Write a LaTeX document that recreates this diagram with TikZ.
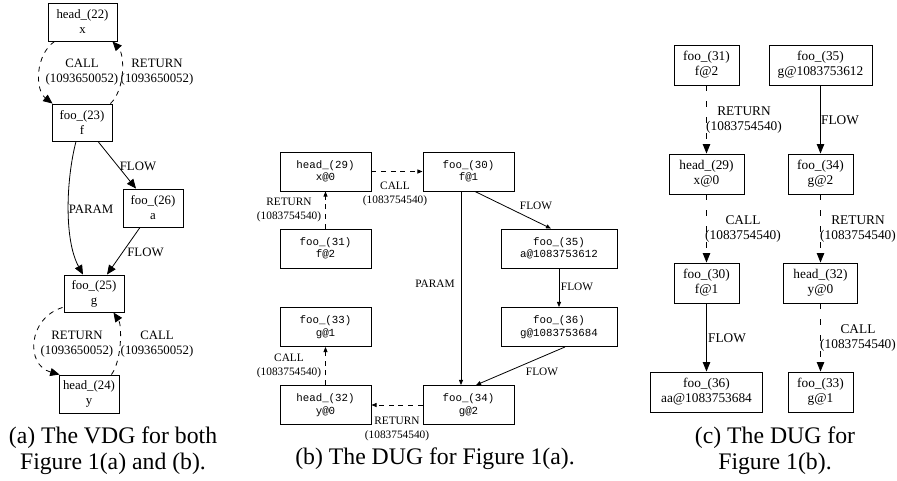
\documentclass[tikz,border=0pt]{standalone}
\usepackage{fontspec}
\setmainfont{Liberation Serif}
\setmonofont{Liberation Mono}
\usetikzlibrary{arrows.meta,calc}
\tikzset{
  abox/.style={draw, line width=0.7pt, inner sep=0pt, align=center,
    minimum width=45pt, minimum height=28.5pt,
    font=\fontsize{9.6}{11.25}\selectfont},
  bbox/.style={draw, line width=0.7pt, inner sep=0pt, align=center,
    minimum width=68.25pt, minimum height=29.25pt,
    font=\ttfamily\fontsize{8.1}{9.3}\selectfont},
  cbox/.style={draw, line width=0.7pt, inner sep=0pt, align=center,
    minimum width=48.75pt, minimum height=30pt,
    font=\fontsize{10}{11.25}\selectfont},
  alabel/.style={inner sep=0pt, align=center, font=\fontsize{9.6}{11.25}\selectfont},
  blabel/.style={inner sep=0pt, align=center, font=\fontsize{8.5}{10.9}\selectfont},
  clabel/.style={inner sep=0pt, align=center, font=\fontsize{10}{11.25}\selectfont},
  capt/.style={inner sep=0pt, anchor=base, font=\fontsize{17.8}{20}\selectfont},
  aedge/.style={line width=0.6pt, -{Triangle[length=7pt,width=6pt]}},
  bedge/.style={line width=0.6pt, -{Triangle[length=3.8pt,width=3pt]}},
  cedge/.style={line width=0.6pt, -{Triangle[length=7pt,width=5.5pt]}},
  adash/.style={dash pattern=on 3.75pt off 3.75pt},
  bdash/.style={dash pattern=on 3.75pt off 3.5pt},
  cdash/.style={dash pattern=on 4pt off 8pt},
}
\begin{document}
\begin{tikzpicture}[x=0.75pt,y=-0.75pt]
\useasboundingbox (0,0) rectangle (897,480);

% ---------------- (a) ----------------
\node[abox, minimum width=51.75pt] (h22) at (82.5,22) {head\_(22)\\x};
\node[abox, minimum height=27.75pt] (f23) at (82,122.5) {foo\_(23)\\f};
\node[abox] (a26) at (153,208) {foo\_(26)\\a};
\node[abox, minimum height=27.75pt] (g25) at (94,293.5) {foo\_(25)\\g};
\node[abox] (y24) at (89,394) {head\_(24)\\y};

\draw[aedge, adash] ($(h22.south west)+(7,0)$) .. controls (35,55) and (35,90) .. ($(f23.north west)+(1,0)$);
\draw[aedge, adash] ($(f23.north east)+(-2,0)$) .. controls (125,90) and (125,55) .. ($(h22.south east)+(-5,0)$);
\draw[aedge] ($(f23.south)+(-6,0)$) .. controls (66,180) and (64,240) .. ($(g25.north)+(-11,0)$);
\draw[aedge] ($(f23.south)+(16,0)$) -- ($(a26.north)+(-17,0)$);
\draw[aedge] ($(a26.south)+(-13,0)$) -- ($(g25.north)+(13,0)$);
\draw[aedge, adash] ($(g25.south west)+(-1,-5)$) .. controls (28,318) and (25,365) .. ($(y24.north west)+(1,0)$);
\draw[aedge, adash] ($(y24.north east)+(-8,0)$) .. controls (122,360) and (122,325) .. ($(g25.south east)+(-11,0)$);

\node[alabel] (la1) at (82,72) {CALL\\(1093650052)};
\node[alabel] (la2) at (157,72) {RETURN\\(1093650052)};
\node[alabel] (la3) at (91,209) {PARAM};
\node[alabel] (la4) at (138,166) {FLOW};
\node[alabel] (la5) at (145.5,252) {FLOW};
\node[alabel] (la6) at (77,344) {RETURN\\(1093650052)};
\node[alabel] (la7) at (157,344) {CALL\\(1093650052)};

\node[capt] (capa1) at (113,443) {(a) The VDG for both};
\node[capt] (capa2) at (113,469) {Figure 1(a) and (b).};

% ---------------- (b) ----------------
\node[bbox] (h29) at (325.5,171.5) {head\_(29)\\x@0};
\node[bbox] (f30) at (468.5,171.5) {foo\_(30)\\f@1};
\node[bbox] (f31) at (325.5,248.5) {foo\_(31)\\f@2};
\node[bbox, minimum width=87pt] (a35) at (559,248.5) {foo\_(35)\\a@1083753612};
\node[bbox, minimum width=87pt] (g36) at (559,327) {foo\_(36)\\g@1083753684};
\node[bbox] (g33) at (325.5,327) {foo\_(33)\\g@1};
\node[bbox] (y32) at (325.5,405) {head\_(32)\\y@0};
\node[bbox] (g34) at (468.5,405) {foo\_(34)\\g@2};

\draw[bedge, bdash] (h29) -- (f30);
\draw[bedge, bdash] (f31) -- (h29);
\draw[bedge] ($(f30.south)+(6.5,0)$) -- ($(a35.north)+(-8,0)$);
\draw[bedge] ($(f30.south)+(-7.5,0)$) -- ($(g34.north)+(-7.5,0)$);
\draw[bedge] (a35) -- (g36);
\draw[bedge] ($(g36.south)+(6,0)$) -- ($(g34.north)+(7.5,0)$);
\draw[bedge, bdash] (y32) -- (g33);
\draw[bedge, bdash] (g34) -- (y32);

\node[blabel] (lb1) at (395,194) {CALL\\(1083754540)};
\node[blabel] (lb2) at (289,210) {RETURN\\(1083754540)};
\node[blabel] (lb3) at (536,206) {FLOW};
\node[blabel] (lb4) at (435,284) {PARAM};
\node[blabel] (lb5) at (577,287) {FLOW};
\node[blabel] (lb6) at (542,372) {FLOW};
\node[blabel] (lb7) at (289,366) {CALL\\(1083754540)};
\node[blabel] (lb8) at (397,429) {RETURN\\(1083754540)};

\node[capt] (capb) at (435,464) {(b) The DUG for Figure 1(a).};

% ---------------- (c) ----------------
\node[cbox] (c31) at (706.5,65) {foo\_(31)\\f@2};
\node[cbox, minimum width=77.25pt] (c35) at (820.5,65) {foo\_(35)\\g@1083753612};
\node[cbox, minimum width=56.25pt] (c29) at (706.5,174) {head\_(29)\\x@0};
\node[cbox] (c34) at (820.5,174) {foo\_(34)\\g@2};
\node[cbox] (c30) at (706.5,283) {foo\_(30)\\f@1};
\node[cbox, minimum width=55.5pt] (c32) at (820.5,283) {head\_(32)\\y@0};
\node[cbox, minimum width=84pt] (c36) at (706.5,392) {foo\_(36)\\aa@1083753684};
\node[cbox] (c33) at (820.5,392) {foo\_(33)\\g@1};

\draw[cedge, cdash] (c31) -- (c29);
\draw[cedge] (c35) -- (c34);
\draw[cedge, cdash] (c29) -- (c30);
\draw[cedge, cdash] (c34) -- (c32);
\draw[cedge] (c30) -- (c36);
\draw[cedge, cdash] (c32) -- (c33);

\node[clabel] (lc1) at (744,120) {RETURN\\(1083754540)};
\node[clabel] (lc2) at (840,120) {FLOW};
\node[clabel] (lc3) at (743,229) {CALL\\(1083754540)};
\node[clabel] (lc4) at (858,229) {RETURN\\(1083754540)};
\node[clabel] (lc5) at (727,338) {FLOW};
\node[clabel] (lc6) at (858,338) {CALL\\(1083754540)};

\node[capt] (capc1) at (775,443) {(c) The DUG for};
\node[capt] (capc2) at (775,469) {Figure 1(b).};
\end{tikzpicture}
\end{document}
